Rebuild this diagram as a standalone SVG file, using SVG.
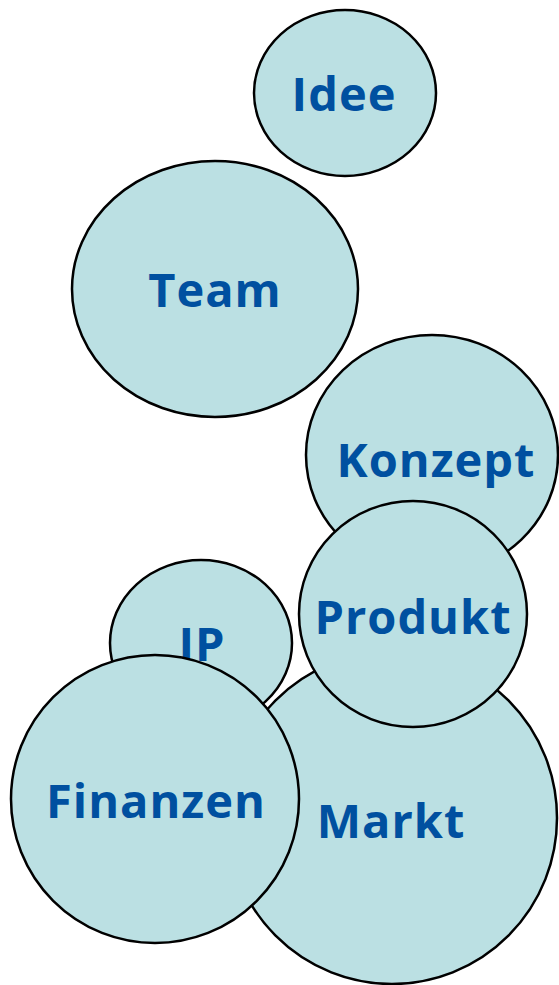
<svg xmlns="http://www.w3.org/2000/svg" width="559" height="985" viewBox="0 0 559 985">
<style>
.n{fill:#BBE0E3;stroke:#000;stroke-width:2.5}
.t{font-family:"Open Sans","DejaVu Sans",sans-serif;font-weight:bold;font-size:47px;fill:#0050A0;text-anchor:middle;letter-spacing:1px}
</style>
<rect width="559" height="985" fill="#fff"/>
<g id="connectors"></g>
<g id="idee"><ellipse class="n" cx="345" cy="93" rx="91" ry="83"/><text class="t" x="344" y="111">Idee</text></g>
<g id="team"><ellipse class="n" cx="215" cy="289" rx="143" ry="128"/><text class="t" x="215" y="307">Team</text></g>
<g id="konzept"><ellipse class="n" cx="432" cy="455" rx="126" ry="120"/><text class="t" x="436" y="477">Konzept</text></g>
<g id="markt"><ellipse class="n" cx="392" cy="818" rx="165" ry="166"/><text class="t" x="391" y="838">Markt</text></g>
<g id="ip"><ellipse class="n" cx="201" cy="643" rx="91" ry="83"/><text class="t" x="202" y="661">IP</text></g>
<g id="finanzen"><ellipse class="n" cx="155" cy="799" rx="144" ry="144"/><text class="t" x="156" y="818">Finanzen</text></g>
<g id="produkt"><ellipse class="n" cx="413" cy="614" rx="114" ry="113"/><text class="t" x="413" y="634">Produkt</text></g>
</svg>
